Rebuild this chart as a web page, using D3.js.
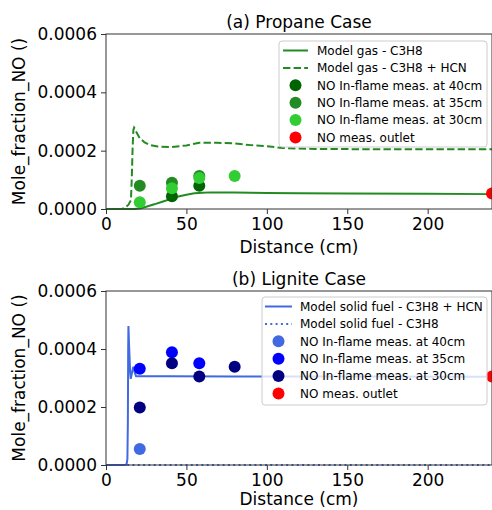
<!DOCTYPE html>
<html>
<head>
<meta charset="utf-8">
<script src="https://cdn.jsdelivr.net/npm/d3@7"></script>
<style>
  html, body { margin: 0; padding: 0; background: #fff; }
  svg { display: block; font-family: "DejaVu Sans", sans-serif; }
</style>
</head>
<body>
<svg id="chart" width="492" height="510"></svg>
<script>
// ---------- DATA ----------
const xTicks = [0, 50, 100, 150, 200];
const yTicks = [0, 0.0002, 0.0004, 0.0006];
const yTickLabels = ["0.0000", "0.0002", "0.0004", "0.0006"];

// (a) Propane case
const gasC3H8_x = [0, 18, 21, 25, 30, 35, 40, 45, 50, 55, 60, 65, 70, 80, 90, 100, 120, 150, 200, 240];
const gasC3H8_y = [0, 0, 0.000002, 0.000008, 0.000016, 0.000025, 0.000034, 0.000043, 0.000049, 0.000054, 0.000056, 0.000057, 0.000057, 0.000057, 0.000056, 0.000055, 0.000054, 0.000053, 0.000052, 0.000051];
const gasHCN_x = [0, 10, 12, 14, 15.5, 16, 16.5, 17, 17.5, 18, 19, 21, 24, 27, 32, 40, 50, 58, 69, 79, 90, 100, 110, 130, 160, 200, 240];
const gasHCN_y = [0, 0, 0.000005, 0.000015, 0.00003, 0.0001, 0.0002, 0.00027, 0.000279, 0.000275, 0.000262, 0.000243, 0.000228, 0.00022, 0.000214, 0.000212, 0.000218, 0.000227, 0.000227, 0.000225, 0.000219, 0.000215, 0.000209, 0.000206, 0.000205, 0.000205, 0.000205];

const prop40_x = [41, 58];          const prop40_y = [0.000044, 0.00008];
const prop35_x = [21, 41, 58];      const prop35_y = [0.00008, 0.00009, 0.000113];
const prop30_x = [21, 41, 58, 80];  const prop30_y = [0.000023, 0.000071, 0.000106, 0.000113];
const propOut_x = [240];            const propOut_y = [0.000053];

// (b) Lignite case
const solidHCN_x = [0, 12, 12.8, 13.3, 13.6, 13.8, 13.95, 14.3, 15.0, 15.4, 16.2, 17.0, 17.8, 18.7, 20, 40, 80, 150, 240];
const solidHCN_y = [0, 0, 0.000003, 0.00002, 0.00015, 0.0004, 0.000479, 0.00042, 0.00032, 0.000297, 0.00032, 0.000339, 0.00032, 0.000306, 0.000306, 0.000306, 0.000305, 0.000305, 0.000304];
const solidC3H8_x = [0, 240];
const solidC3H8_y = [0, 0];

const lig40_x = [21];               const lig40_y = [0.000055];
const lig35_x = [21, 41, 58];       const lig35_y = [0.000332, 0.000389, 0.000351];
const lig30_x = [21, 41, 58, 80];   const lig30_y = [0.000198, 0.000351, 0.000305, 0.000339];
const ligOut_x = [240];             const ligOut_y = [0.000305];

// ---------- DRAW ----------
const svg = d3.select("#chart");
const zip = (xs, ys) => xs.map((x, i) => [x, ys[i]]);

function panel(cfg) {
  const x = d3.scaleLinear().domain([0, 240]).range([106, 492]);
  const y = d3.scaleLinear().domain([0, 0.0006]).range([cfg.bottom, cfg.top]);
  const g = svg.append("g");

  const line = d3.line().x(d => x(d[0])).y(d => y(d[1]));
  cfg.lines.forEach(l => {
    g.append("path").datum(zip(l.x, l.y))
      .attr("d", line).attr("fill", "none")
      .attr("stroke", l.color).attr("stroke-width", 2)
      .attr("stroke-dasharray", l.dash || null);
  });
  cfg.points.forEach(p => {
    g.selectAll(null).data(zip(p.x, p.y)).enter().append("circle")
      .attr("cx", d => x(d[0])).attr("cy", d => y(d[1])).attr("r", 6)
      .attr("fill", p.color);
  });

  // axes
  const xAxis = g.append("g").attr("transform", `translate(0,${cfg.bottom})`)
    .call(d3.axisBottom(x).tickValues(xTicks).tickSize(5).tickPadding(4).tickFormat(d3.format("d")));
  const yAxis = g.append("g").attr("transform", `translate(106,0)`)
    .call(d3.axisLeft(y).tickValues(yTicks).tickSize(5).tickPadding(4).tickFormat((d, i) => yTickLabels[i]));
  [xAxis, yAxis].forEach(a => {
    a.select(".domain").remove();
    a.selectAll("line").attr("stroke", "#333");
    a.selectAll("text").attr("font-size", 17).attr("fill", "#000").attr("font-family", "DejaVu Sans");
  });
  // spines
  g.append("rect").attr("x", 106).attr("y", cfg.top)
    .attr("width", 386).attr("height", cfg.bottom - cfg.top)
    .attr("fill", "none").attr("stroke", "#333").attr("stroke-width", 1);

  // title and labels
  g.append("text").attr("x", 299).attr("y", cfg.top - 6).attr("text-anchor", "middle")
    .attr("font-size", 17).text(cfg.title);
  g.append("text").attr("x", 299).attr("y", cfg.bottom + cfg.xlabOff).attr("text-anchor", "middle")
    .attr("font-size", 17).text("Distance (cm)");
  g.append("text")
    .attr("transform", `translate(25,${(cfg.top + cfg.bottom) / 2}) rotate(-90)`)
    .attr("text-anchor", "middle").attr("font-size", 17).text("Mole_fraction_NO ()");

  // legend
  const L = cfg.legend;
  const lg = g.append("g");
  lg.append("rect").attr("x", L.x).attr("y", L.y).attr("width", L.w).attr("height", L.h)
    .attr("rx", 3).attr("fill", "#fff").attr("fill-opacity", 0.8)
    .attr("stroke", "#ccc").attr("stroke-width", 1);
  L.items.forEach((it, i) => {
    const cy = L.y + 9.5 + i * 17.4;
    if (it.type === "line") {
      lg.append("line").attr("x1", L.hx1).attr("x2", L.hx2).attr("y1", cy).attr("y2", cy)
        .attr("stroke", it.color).attr("stroke-width", 2).attr("stroke-dasharray", it.dash || null);
    } else {
      lg.append("circle").attr("cx", (L.hx1 + L.hx2) / 2).attr("cy", cy).attr("r", 6).attr("fill", it.color);
    }
    lg.append("text").attr("x", L.tx).attr("y", cy).attr("dy", "0.36em")
      .attr("font-size", 12).text(it.label);
  });
}

panel({
  top: 34, bottom: 209, xlabOff: 44, title: "(a) Propane Case",
  lines: [
    { x: gasC3H8_x, y: gasC3H8_y, color: "#228b22" },
    { x: gasHCN_x, y: gasHCN_y, color: "#228b22", dash: "7.4,3.2" }
  ],
  points: [
    { x: prop40_x, y: prop40_y, color: "#006400" },
    { x: prop35_x, y: prop35_y, color: "#228b22" },
    { x: prop30_x, y: prop30_y, color: "#32cd32" },
    { x: propOut_x, y: propOut_y, color: "#ff0000" }
  ],
  legend: {
    x: 279, y: 41, w: 208, h: 106, hx1: 283, hx2: 308, tx: 317,
    items: [
      { type: "line", color: "#228b22", label: "Model gas - C3H8" },
      { type: "line", color: "#228b22", dash: "7.4,3.2", label: "Model gas - C3H8 + HCN" },
      { type: "dot", color: "#006400", label: "NO In-flame meas. at 40cm" },
      { type: "dot", color: "#228b22", label: "NO In-flame meas. at 35cm" },
      { type: "dot", color: "#32cd32", label: "NO In-flame meas. at 30cm" },
      { type: "dot", color: "#ff0000", label: "NO meas. outlet" }
    ]
  }
});

panel({
  top: 291, bottom: 465, xlabOff: 40, title: "(b) Lignite Case",
  lines: [
    { x: solidHCN_x, y: solidHCN_y, color: "#4169e1" },
    { x: solidC3H8_x, y: solidC3H8_y, color: "#4169e1", dash: "2,3.3" }
  ],
  points: [
    { x: lig40_x, y: lig40_y, color: "#4169e1" },
    { x: lig35_x, y: lig35_y, color: "#0000ff" },
    { x: lig30_x, y: lig30_y, color: "#000080" },
    { x: ligOut_x, y: ligOut_y, color: "#ff0000" }
  ],
  legend: {
    x: 262, y: 297, w: 225, h: 108, hx1: 265, hx2: 292, tx: 300,
    items: [
      { type: "line", color: "#4169e1", label: "Model solid fuel - C3H8 + HCN" },
      { type: "line", color: "#4169e1", dash: "2,3.3", label: "Model solid fuel - C3H8" },
      { type: "dot", color: "#4169e1", label: "NO In-flame meas. at 40cm" },
      { type: "dot", color: "#0000ff", label: "NO In-flame meas. at 35cm" },
      { type: "dot", color: "#000080", label: "NO In-flame meas. at 30cm" },
      { type: "dot", color: "#ff0000", label: "NO meas. outlet" }
    ]
  }
});
</script>
</body>
</html>
